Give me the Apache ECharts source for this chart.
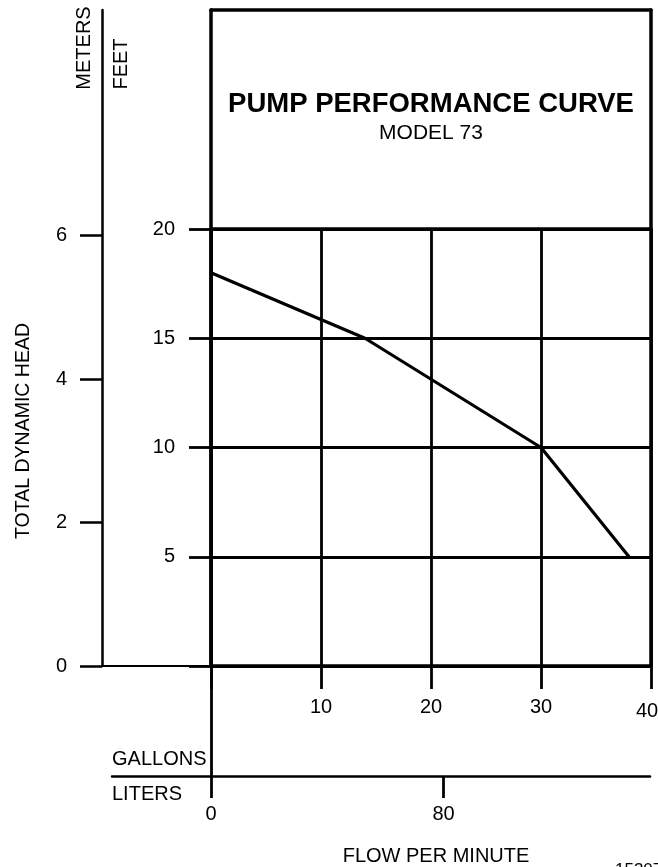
<!DOCTYPE html>
<html><head><meta charset="utf-8">
<script src="https://cdn.jsdelivr.net/npm/echarts@6/dist/echarts.min.js"></script>
<style>html,body{margin:0;padding:0;background:#fff}#c{width:658px;height:867px}</style>
</head><body><div id="c"></div>
<script>
// ---- data ----
const flowGpm = [0, 14, 30, 38];
const headFt = [18, 15, 10, 5];
const gallonTicks = [10, 20, 30, 40];
const feetTicks = [5, 10, 15, 20];
const meterTicks = [0, 2, 4, 6];
const literTicks = [0, 80];
const FT_PER_M = 3.28084;
const L_PER_GAL = 3.78541;

const FONT = "'Liberation Sans',Arial,sans-serif";
const FS = 20;
const K = '#000';
const BOX = 3.5, GRIDW = 2.8;

const chart = echarts.init(document.getElementById('c'), null, {renderer: 'canvas'});
const noAxis = {show: false};
const lbl = (extra) => Object.assign({color: K, fontFamily: FONT, fontSize: FS}, extra);
const line = (w) => ({onZero: false, lineStyle: {color: K, width: w}});
const G = (o) => Object.assign({outerBoundsMode: 'none', containLabel: false}, o);

const option = {
  animation: false,
  backgroundColor: '#fff',
  grid: [
    G({left: 211, right: 7, top: 229, bottom: 201}),  // 0 data area
    G({left: 102, right: 7, top: 10, bottom: 201}),   // 1 meters axis + bottom line
    G({left: 211, right: 7, top: 10, bottom: 201}),   // 2 box
    G({left: 112, right: 8, top: 666, bottom: 91}),   // 3 liters axis
    G({left: 211, right: 7, top: 666, bottom: 91})    // 4 connector
  ],
  xAxis: [
    { gridIndex: 0, type: 'value', min: 0, max: 40, interval: 10, position: 'bottom',
      axisLine: line(BOX),
      axisTick: {inside: false, length: 23, lineStyle: {color: K, width: GRIDW}},
      axisLabel: lbl({margin: 31, customValues: gallonTicks,
        formatter: v => v === 40 ? '{e|40}' : String(v),
        rich: {e: {fontFamily: FONT, fontSize: FS, color: K, padding: [4, 8, 0, 0]}}}),
      splitLine: {show: true, lineStyle: {color: K, width: GRIDW}} },
    { gridIndex: 0, type: 'value', min: 0, max: 40, position: 'top',
      axisLine: line(BOX), axisTick: noAxis, axisLabel: noAxis, splitLine: noAxis },
    { gridIndex: 1, type: 'value', min: 0, max: 1, position: 'bottom',
      axisLine: line(2.2), axisTick: noAxis, axisLabel: noAxis, splitLine: noAxis },
    { gridIndex: 2, type: 'value', min: 0, max: 1, position: 'top',
      axisLine: line(BOX), axisTick: noAxis, axisLabel: noAxis, splitLine: noAxis },
    { gridIndex: 3, type: 'value', min: -99 * (40 * L_PER_GAL / 440), max: 39.9 * L_PER_GAL, position: 'bottom',
      axisLine: line(2.5),
      axisTick: {inside: false, length: 22, customValues: literTicks, lineStyle: {color: K, width: GRIDW}},
      axisLabel: lbl({margin: 28, customValues: literTicks}),
      splitLine: noAxis },
    { gridIndex: 4, type: 'value', min: 0, max: 1, show: false }
  ],
  yAxis: [
    { gridIndex: 0, type: 'value', min: 0, max: 20, interval: 5, position: 'left',
      axisLine: line(BOX),
      axisTick: {inside: false, length: 22, lineStyle: {color: K, width: GRIDW}},
      axisLabel: lbl({margin: 36, customValues: feetTicks}),
      splitLine: {show: true, lineStyle: {color: K, width: GRIDW}} },
    { gridIndex: 1, type: 'value', min: 0, max: 30 / FT_PER_M, position: 'left',
      axisLine: line(2.5),
      axisTick: {inside: false, length: 22, customValues: meterTicks, lineStyle: {color: K, width: 2.5}},
      axisLabel: lbl({margin: 35, customValues: meterTicks}),
      splitLine: noAxis },
    { gridIndex: 2, type: 'value', min: 0, max: 30, position: 'left',
      axisLine: line(BOX), axisTick: noAxis, axisLabel: noAxis, splitLine: noAxis },
    { gridIndex: 2, type: 'value', min: 0, max: 30, position: 'right',
      axisLine: line(BOX), axisTick: noAxis, axisLabel: noAxis, splitLine: noAxis },
    { gridIndex: 3, type: 'value', min: 0, max: 1, show: false },
    { gridIndex: 4, type: 'value', min: 0, max: 1, position: 'left',
      axisLine: line(2.8), axisTick: noAxis, axisLabel: noAxis, splitLine: noAxis }
  ],
  series: [{
    type: 'line', xAxisIndex: 0, yAxisIndex: 0,
    data: flowGpm.map((g, i) => [g, headFt[i]]),
    showSymbol: false, symbol: 'none',
    lineStyle: {color: K, width: 3.2}, z: 5
  }],
  graphic: [
    {type: 'text', x: 431, y: 104, style: {text: 'PUMP PERFORMANCE CURVE', fill: K, textAlign: 'center', textVerticalAlign: 'middle', font: "bold 27.5px 'Liberation Sans',Arial,sans-serif"}},
    {type: 'text', x: 431, y: 133, style: {text: 'MODEL 73', fill: K, textAlign: 'center', textVerticalAlign: 'middle', font: "21px 'Liberation Sans',Arial,sans-serif"}},
    {type: 'text', x: 84, y: 48, rotation: Math.PI / 2, style: {text: 'METERS', fill: K, textAlign: 'center', textVerticalAlign: 'middle', font: FS + 'px ' + FONT}},
    {type: 'text', x: 121, y: 64, rotation: Math.PI / 2, style: {text: 'FEET', fill: K, textAlign: 'center', textVerticalAlign: 'middle', font: FS + 'px ' + FONT}},
    {type: 'text', x: 24, y: 431, rotation: Math.PI / 2, style: {text: 'TOTAL DYNAMIC HEAD', fill: K, textAlign: 'center', textVerticalAlign: 'middle', font: '19.5px ' + FONT}},
    {type: 'text', x: 112, y: 759, style: {text: 'GALLONS', fill: K, textAlign: 'left', textVerticalAlign: 'middle', font: FS + 'px ' + FONT}},
    {type: 'text', x: 112, y: 794, style: {text: 'LITERS', fill: K, textAlign: 'left', textVerticalAlign: 'middle', font: FS + 'px ' + FONT}},
    {type: 'text', x: 436, y: 856, style: {text: 'FLOW PER MINUTE', fill: K, textAlign: 'center', textVerticalAlign: 'middle', font: '20px ' + FONT}},
    {type: 'text', x: 615, y: 870, style: {text: '15307', fill: K, textAlign: 'left', textVerticalAlign: 'middle', font: '17px ' + FONT}}
  ]
};
chart.setOption(option);
</script></body></html>
